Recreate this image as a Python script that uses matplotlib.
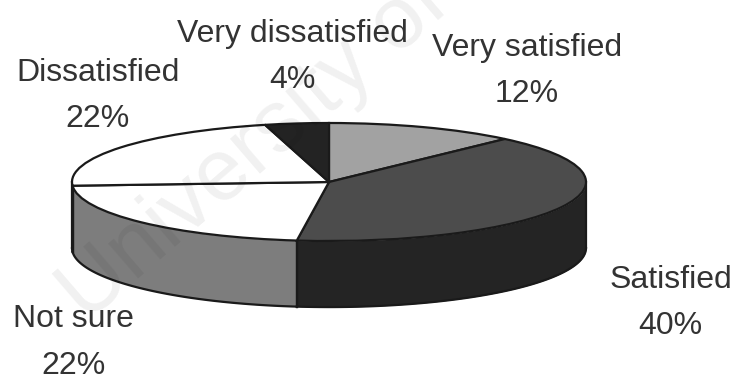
import numpy as np
import matplotlib
matplotlib.use('Agg')
import matplotlib.pyplot as plt

categories=['Very satisfied','Satisfied','Not sure','Dissatisfied','Very dissatisfied']
percent=[12,40,22,22,4]
topColors=['#a2a2a2','#4c4c4c','#ffffff','#ffffff','#232323']
sideColors=['#6e6e6e','#242424','#7d7d7d','#8a8a8a','#181818']
#Label positions of each slice, in the units of the pie axes
labelX=[0.77,1.33,-0.996,-0.90,-0.144]
labelY=[1.88,-2.05,-2.72,1.46,2.12]

plt.rcParams['font.family']=['Liberation Sans','DejaVu Sans']

fig=plt.figure(figsize=(7.36,3.81),dpi=100)
ax=fig.add_axes([0,0,1,1])

#Pie is drawn as a circle and flattened by the axes limits
wedges,_=ax.pie(percent,colors=topColors,startangle=90,counterclock=False,radius=1,center=(0,0),
                wedgeprops={'edgecolor':'#1a1a1a','linewidth':1.6,'zorder':3})
ax.set_aspect('auto')
ax.set_xlim(-329/257,(736-329)/257)
ax.set_ylim((182-381)/59,182/59)
ax.axis('off')

#Rim below the front half of the pie
depth=1.12
edges=np.cumsum([0]+percent)/100*2*np.pi
for i in range(len(percent)):
    start=max(edges[i],np.pi/2)
    end=min(edges[i+1],3*np.pi/2)
    if end<=start:
        continue
    angle=np.linspace(start,end,80)
    x=np.sin(angle)
    y=np.cos(angle)
    ax.fill_between(x,y-depth,y,color=sideColors[i],linewidth=0,zorder=1)
    ax.plot(x,y-depth,color='#1a1a1a',linewidth=1.6,zorder=2)
    for edge in (start,end):
        ax.plot([np.sin(edge)]*2,[np.cos(edge)-depth,np.cos(edge)],color='#1a1a1a',linewidth=1.6,zorder=2)

for i in range(len(categories)):
    ax.text(labelX[i],labelY[i],categories[i]+'\n'+str(percent[i])+'%',ha='center',va='center',
            fontsize=23,color='#333333',linespacing=1.7,zorder=5)

#Faint stamp running across the page
fig.text(0.117,0.15,'University of',rotation=40.7,ha='left',va='baseline',fontsize=63,color='black',alpha=0.06,zorder=6,
         rotation_mode='anchor')

plt.savefig('out.png',dpi=100)
